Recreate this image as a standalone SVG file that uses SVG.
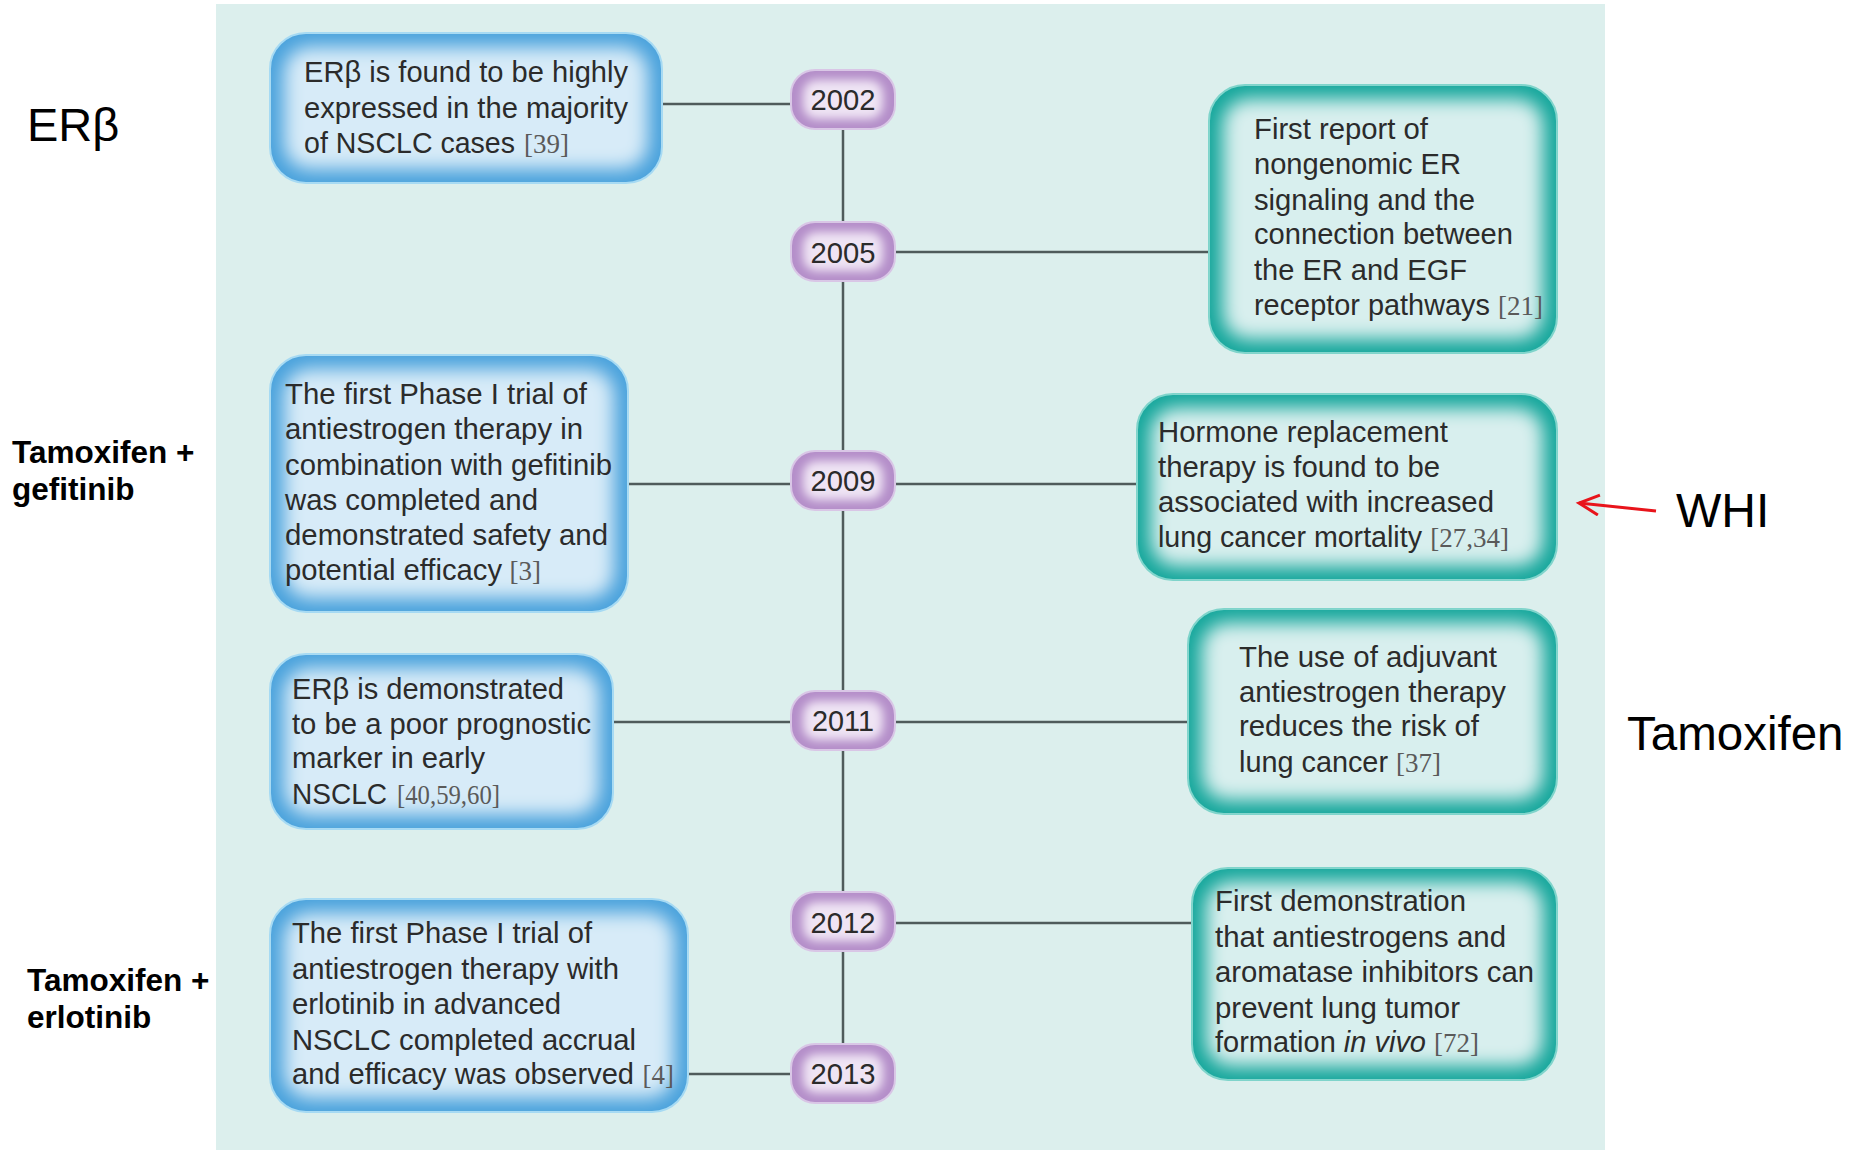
<svg xmlns="http://www.w3.org/2000/svg" width="1855" height="1153" viewBox="0 0 1855 1153">
<defs>
<style>
.t{font-family:"Liberation Sans",Arial,sans-serif;font-size:30px;fill:#2b2b2b}
.r{font-family:"Liberation Serif","Times New Roman",serif;font-size:27px;fill:#5a5a5a;text-anchor:end}
.yr{font-family:"Liberation Sans",Arial,sans-serif;font-size:30px;fill:#2b2b2b;text-anchor:middle}
.lab{font-family:"Liberation Sans",Arial,sans-serif;fill:#000}
.conn{stroke:#4f5b5b;stroke-width:2.5;fill:none}
.bEdge{fill:#4aa2dc;stroke:#a6daf3;stroke-width:2}
.bCore{fill:#d7ebf8}
.gEdge{fill:#16a79c;stroke:#7fd4cb;stroke-width:2}
.gCore{fill:#d8efee}
.pEdge{fill:#b48ec9;stroke:#d9c6e6;stroke-width:2}
.pCore{fill:#efe4f4}
</style>
<filter id="glow" x="-30%" y="-30%" width="160%" height="160%"><feGaussianBlur stdDeviation="9"/></filter>
<filter id="glowS" x="-40%" y="-60%" width="180%" height="220%"><feGaussianBlur stdDeviation="5"/></filter>
<marker id="arr" markerUnits="userSpaceOnUse" markerWidth="30" markerHeight="30" refX="22" refY="11" orient="auto"><path d="M2,1 L22,11 L2,21" fill="none" stroke="#e8141b" stroke-width="3"/></marker>
<clipPath id="c1"><rect x="270" y="33" width="392" height="150" rx="36"/></clipPath>
<clipPath id="c2"><rect x="270" y="355" width="358" height="257" rx="36"/></clipPath>
<clipPath id="c3"><rect x="270" y="654" width="343" height="175" rx="36"/></clipPath>
<clipPath id="c4"><rect x="270" y="899" width="418" height="213" rx="36"/></clipPath>
<clipPath id="c5"><rect x="1209" y="85" width="348" height="268" rx="36"/></clipPath>
<clipPath id="c6"><rect x="1137" y="394" width="420" height="186" rx="36"/></clipPath>
<clipPath id="c7"><rect x="1188" y="609" width="369" height="205" rx="36"/></clipPath>
<clipPath id="c8"><rect x="1192" y="868" width="365" height="212" rx="36"/></clipPath>
</defs>
<rect width="1855" height="1153" fill="#ffffff"/>
<rect x="216" y="4" width="1389" height="1146" fill="#dcefed"/>

<g id="connectors">
<line class="conn" x1="843" y1="99" x2="843" y2="1073"/>
<line class="conn" x1="662" y1="104" x2="795" y2="104"/>
<line class="conn" x1="628" y1="484" x2="795" y2="484"/>
<line class="conn" x1="613" y1="722" x2="795" y2="722"/>
<line class="conn" x1="688" y1="1074" x2="795" y2="1074"/>
<line class="conn" x1="891" y1="252" x2="1209" y2="252"/>
<line class="conn" x1="891" y1="484" x2="1137" y2="484"/>
<line class="conn" x1="891" y1="722" x2="1188" y2="722"/>
<line class="conn" x1="891" y1="923" x2="1192" y2="923"/>
</g>

<g id="y2002"><rect class="pEdge" x="791" y="70" width="104" height="59" rx="24"/><rect class="pCore" x="803" y="80" width="80" height="39" rx="14" filter="url(#glowS)"/><text class="yr" x="843" y="110" textLength="65" lengthAdjust="spacingAndGlyphs">2002</text></g>
<g id="y2005"><rect class="pEdge" x="791" y="222" width="104" height="59" rx="24"/><rect class="pCore" x="803" y="232" width="80" height="39" rx="14" filter="url(#glowS)"/><text class="yr" x="843" y="263" textLength="65" lengthAdjust="spacingAndGlyphs">2005</text></g>
<g id="y2009"><rect class="pEdge" x="791" y="451" width="104" height="59" rx="24"/><rect class="pCore" x="803" y="461" width="80" height="39" rx="14" filter="url(#glowS)"/><text class="yr" x="843" y="491" textLength="65" lengthAdjust="spacingAndGlyphs">2009</text></g>
<g id="y2011"><rect class="pEdge" x="791" y="691" width="104" height="59" rx="24"/><rect class="pCore" x="803" y="701" width="80" height="39" rx="14" filter="url(#glowS)"/><text class="yr" x="843" y="731" textLength="62" lengthAdjust="spacingAndGlyphs">2011</text></g>
<g id="y2012"><rect class="pEdge" x="791" y="892" width="104" height="59" rx="24"/><rect class="pCore" x="803" y="902" width="80" height="39" rx="14" filter="url(#glowS)"/><text class="yr" x="843" y="933" textLength="65" lengthAdjust="spacingAndGlyphs">2012</text></g>
<g id="y2013"><rect class="pEdge" x="791" y="1044" width="104" height="59" rx="24"/><rect class="pCore" x="803" y="1054" width="80" height="39" rx="14" filter="url(#glowS)"/><text class="yr" x="843" y="1084" textLength="65" lengthAdjust="spacingAndGlyphs">2013</text></g>

<g id="box2002">
<rect class="bEdge" x="270" y="33" width="392" height="150" rx="36"/>
<rect class="bCore" x="284" y="47" width="364" height="122" rx="26" filter="url(#glow)" clip-path="url(#c1)"/>
<text class="t" x="304" y="82" textLength="324" lengthAdjust="spacingAndGlyphs">ERβ is found to be highly</text>
<text class="t" x="304" y="118" textLength="324" lengthAdjust="spacingAndGlyphs">expressed in the majority</text>
<text class="t" x="304" y="153" textLength="211" lengthAdjust="spacingAndGlyphs">of NSCLC cases</text>
<text class="r" x="569" y="153">[39]</text>
</g>

<g id="box2009a">
<rect class="bEdge" x="270" y="355" width="358" height="257" rx="36"/>
<rect class="bCore" x="284" y="369" width="330" height="229" rx="26" filter="url(#glow)" clip-path="url(#c2)"/>
<text class="t" x="285" y="404" textLength="302" lengthAdjust="spacingAndGlyphs">The first Phase I trial of</text>
<text class="t" x="285" y="439" textLength="298" lengthAdjust="spacingAndGlyphs">antiestrogen therapy in</text>
<text class="t" x="285" y="475" textLength="327" lengthAdjust="spacingAndGlyphs">combination with gefitinib</text>
<text class="t" x="285" y="510" textLength="253" lengthAdjust="spacingAndGlyphs">was completed and</text>
<text class="t" x="285" y="545" textLength="323" lengthAdjust="spacingAndGlyphs">demonstrated safety and</text>
<text class="t" x="285" y="580" textLength="217" lengthAdjust="spacingAndGlyphs">potential efficacy</text>
<text class="r" x="541" y="580">[3]</text>
</g>

<g id="box2011a">
<rect class="bEdge" x="270" y="654" width="343" height="175" rx="36"/>
<rect class="bCore" x="284" y="668" width="315" height="147" rx="26" filter="url(#glow)" clip-path="url(#c3)"/>
<text class="t" x="292" y="699" textLength="272" lengthAdjust="spacingAndGlyphs">ERβ is demonstrated</text>
<text class="t" x="292" y="734" textLength="299" lengthAdjust="spacingAndGlyphs">to be a poor prognostic</text>
<text class="t" x="292" y="768" textLength="193" lengthAdjust="spacingAndGlyphs">marker in early</text>
<text class="t" x="292" y="804" textLength="95" lengthAdjust="spacingAndGlyphs">NSCLC</text>
<text class="r" x="500" y="804" textLength="103" lengthAdjust="spacingAndGlyphs">[40,59,60]</text>
</g>

<g id="box2013">
<rect class="bEdge" x="270" y="899" width="418" height="213" rx="36"/>
<rect class="bCore" x="284" y="913" width="390" height="185" rx="26" filter="url(#glow)" clip-path="url(#c4)"/>
<text class="t" x="292" y="943" textLength="300" lengthAdjust="spacingAndGlyphs">The first Phase I trial of</text>
<text class="t" x="292" y="979" textLength="327" lengthAdjust="spacingAndGlyphs">antiestrogen therapy with</text>
<text class="t" x="292" y="1014" textLength="269" lengthAdjust="spacingAndGlyphs">erlotinib in advanced</text>
<text class="t" x="292" y="1050" textLength="344" lengthAdjust="spacingAndGlyphs">NSCLC completed accrual</text>
<text class="t" x="292" y="1084" textLength="342" lengthAdjust="spacingAndGlyphs">and efficacy was observed</text>
<text class="r" x="674" y="1084">[4]</text>
</g>

<g id="box2005">
<rect class="gEdge" x="1209" y="85" width="348" height="268" rx="36"/>
<rect class="gCore" x="1223" y="99" width="320" height="240" rx="26" filter="url(#glow)" clip-path="url(#c5)"/>
<text class="t" x="1254" y="139" textLength="174" lengthAdjust="spacingAndGlyphs">First report of</text>
<text class="t" x="1254" y="174" textLength="207" lengthAdjust="spacingAndGlyphs">nongenomic ER</text>
<text class="t" x="1254" y="210" textLength="221" lengthAdjust="spacingAndGlyphs">signaling and the</text>
<text class="t" x="1254" y="244" textLength="259" lengthAdjust="spacingAndGlyphs">connection between</text>
<text class="t" x="1254" y="280" textLength="213" lengthAdjust="spacingAndGlyphs">the ER and EGF</text>
<text class="t" x="1254" y="315" textLength="236" lengthAdjust="spacingAndGlyphs">receptor pathways</text>
<text class="r" x="1543" y="315">[21]</text>
</g>

<g id="box2009b">
<rect class="gEdge" x="1137" y="394" width="420" height="186" rx="36"/>
<rect class="gCore" x="1151" y="408" width="392" height="158" rx="26" filter="url(#glow)" clip-path="url(#c6)"/>
<text class="t" x="1158" y="442" textLength="290" lengthAdjust="spacingAndGlyphs">Hormone replacement</text>
<text class="t" x="1158" y="477" textLength="282" lengthAdjust="spacingAndGlyphs">therapy is found to be</text>
<text class="t" x="1158" y="512" textLength="336" lengthAdjust="spacingAndGlyphs">associated with increased</text>
<text class="t" x="1158" y="547" textLength="264" lengthAdjust="spacingAndGlyphs">lung cancer mortality</text>
<text class="r" x="1509" y="547">[27,34]</text>
</g>

<g id="box2011b">
<rect class="gEdge" x="1188" y="609" width="369" height="205" rx="36"/>
<rect class="gCore" x="1202" y="623" width="341" height="177" rx="26" filter="url(#glow)" clip-path="url(#c7)"/>
<text class="t" x="1239" y="667" textLength="258" lengthAdjust="spacingAndGlyphs">The use of adjuvant</text>
<text class="t" x="1239" y="702" textLength="267" lengthAdjust="spacingAndGlyphs">antiestrogen therapy</text>
<text class="t" x="1239" y="736" textLength="240" lengthAdjust="spacingAndGlyphs">reduces the risk of</text>
<text class="t" x="1239" y="772" textLength="149" lengthAdjust="spacingAndGlyphs">lung cancer</text>
<text class="r" x="1441" y="772">[37]</text>
</g>

<g id="box2012">
<rect class="gEdge" x="1192" y="868" width="365" height="212" rx="36"/>
<rect class="gCore" x="1206" y="882" width="337" height="184" rx="26" filter="url(#glow)" clip-path="url(#c8)"/>
<text class="t" x="1215" y="911" textLength="251" lengthAdjust="spacingAndGlyphs">First demonstration</text>
<text class="t" x="1215" y="947" textLength="291" lengthAdjust="spacingAndGlyphs">that antiestrogens and</text>
<text class="t" x="1215" y="982" textLength="319" lengthAdjust="spacingAndGlyphs">aromatase inhibitors can</text>
<text class="t" x="1215" y="1018" textLength="245" lengthAdjust="spacingAndGlyphs">prevent lung tumor</text>
<text class="t" x="1215" y="1052" textLength="211" lengthAdjust="spacingAndGlyphs">formation <tspan font-style="italic">in vivo</tspan></text>
<text class="r" x="1479" y="1052">[72]</text>
</g>

<g id="label-erb"><text class="lab" x="27" y="141" font-size="47">ERβ</text></g>
<g id="label-tamgef"><text class="lab" x="12" y="463" font-size="31.5" font-weight="bold">Tamoxifen +</text><text class="lab" x="12" y="500" font-size="31.5" font-weight="bold">gefitinib</text></g>
<g id="label-tamerl"><text class="lab" x="27" y="991" font-size="31.5" font-weight="bold">Tamoxifen +</text><text class="lab" x="27" y="1028" font-size="31.5" font-weight="bold">erlotinib</text></g>
<g id="label-whi"><text class="lab" x="1676" y="527" font-size="48">WHI</text><path d="M1656,511 L1579,503" stroke="#e8141b" stroke-width="3" fill="none" marker-end="url(#arr)"/></g>
<g id="label-tam"><text class="lab" x="1627" y="750" font-size="47.5">Tamoxifen</text></g>
</svg>
